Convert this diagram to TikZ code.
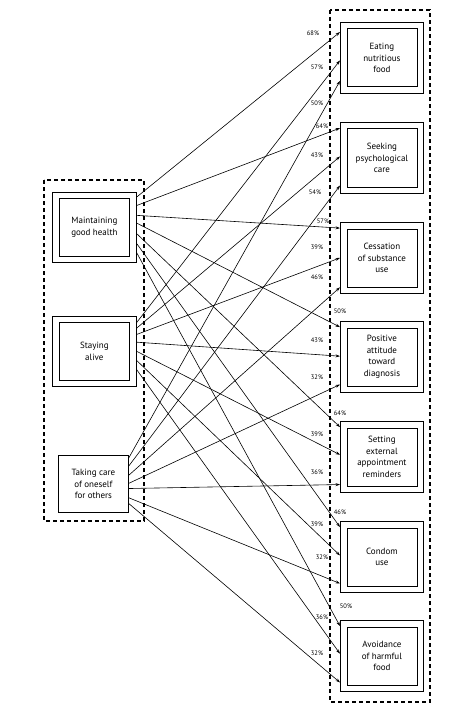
\documentclass[tikz,border=0pt]{standalone}
\usepackage{fontspec}
\setmainfont{PT Sans}
\usetikzlibrary{arrows.meta,calc}
\begin{document}
\begin{tikzpicture}[x=1pt,y=-1pt,
  obox/.style={draw,line width=0.8pt,minimum width=83pt,minimum height=71pt,inner sep=0pt,anchor=north west},
  lbox/.style={draw,line width=0.8pt,minimum width=84pt,minimum height=70pt,inner sep=0pt,anchor=north west},
  ibox/.style={draw,line width=0.8pt,minimum width=70pt,minimum height=58pt,inner sep=0pt,align=center,font=\fontsize{9}{11.5}\selectfont},
  sbox/.style={draw,line width=0.8pt,minimum width=70pt,minimum height=57pt,inner sep=0pt,align=center,anchor=north west,font=\fontsize{9}{11.5}\selectfont},
  grp/.style={draw,dashed,line width=1.8pt,dash pattern=on 4pt off 3pt},
  conn/.style={line width=0.6pt,-{Stealth[length=4.5pt,width=3pt]}},
  pct/.style={font=\fontsize{6.5}{7}\selectfont,inner sep=0pt}]
\path[use as bounding box] (0,0) rectangle (455,714);
% groups
\draw[grp] (44,180) rectangle (144,521);
\draw[grp] (330,10) rectangle (430,702);
% left boxes
\node[lbox] (mgh) at (52,192) {};
\node[ibox] (mghI) at (mgh.center) {Maintaining\\good health};
\node[lbox] (sta) at (52,316) {};
\node[ibox] (staI) at (sta.center) {Staying\\alive};
\node[sbox] (tak) at (58,455) {Taking care\\of oneself\\for others};
% right boxes
\node[obox] (eat) at (340,22) {};
\node[ibox] (eatI) at (eat.center) {Eating\\nutritious\\food};
\node[obox] (psy) at (340,122) {};
\node[ibox] (psyI) at (psy.center) {Seeking\\psychological\\care};
\node[obox] (ces) at (340,222) {};
\node[ibox] (cesI) at (ces.center) {Cessation\\of substance\\use};
\node[obox] (pos) at (340,321) {};
\node[ibox] (posI) at (pos.center) {Positive\\attitude\\toward\\diagnosis};
\node[obox] (rem) at (340,421) {};
\node[ibox] (remI) at (rem.center) {Setting\\external\\appointment\\reminders};
\node[obox] (con) at (340,521) {};
\node[ibox] (conI) at (con.center) {Condom\\use};
\node[obox] (avo) at (340,620) {};
\node[ibox] (avoI) at (avo.center) {Avoidance\\of harmful\\food};
% connectors: Maintaining -> top arrows
\foreach \t/\f/\g in {eat/0.07/0.14, psy/0.19/0.085, ces/0.33/0.085, pos/0.44/0.085, rem/0.59/0.085, con/0.73/0.085, avo/0.86/0.085}
  \draw[conn] ($(mgh.north east)!\f!(mgh.south east)$) -- ($(\t.north west)!\g!(\t.south west)$);
% Staying -> middle arrows
\foreach \t/\f/\g in {eat/0.09/0.535, psy/0.17/0.48, ces/0.26/0.5, pos/0.37/0.49, rem/0.5/0.47, con/0.63/0.48, avo/0.76/0.47}
  \draw[conn] ($(sta.north east)!\f!(sta.south east)$) -- ($(\t.north west)!\g!(\t.south west)$);
% Taking care -> bottom arrows
\foreach \t/\f/\g in {eat/0.05/0.82, psy/0.19/0.885, ces/0.35/0.91, pos/0.49/0.885, rem/0.58/0.885, con/0.74/0.87, avo/0.84/0.87}
  \draw[conn] ($(tak.north east)!\f!(tak.south east)$) -- ($(\t.north west)!\g!(\t.south west)$);
% percentages
\node[pct] (p1) at (313,33) {68\%};
\node[pct] (p2) at (317,67) {57\%};
\node[pct] (p3) at (317,103) {50\%};
\node[pct] (p4) at (322,126) {64\%};
\node[pct] (p5) at (317,155) {43\%};
\node[pct] (p6) at (315,192) {54\%};
\node[pct] (p7) at (323,221) {57\%};
\node[pct] (p8) at (317,247) {39\%};
\node[pct] (p9) at (317,277) {46\%};
\node[pct] (p10) at (340,311) {50\%};
\node[pct] (p11) at (317,340) {43\%};
\node[pct] (p12) at (317,377) {32\%};
\node[pct] (p13) at (340,413) {64\%};
\node[pct] (p14) at (317,434) {39\%};
\node[pct] (p15) at (317,472) {36\%};
\node[pct] (p16) at (340,512) {46\%};
\node[pct] (p17) at (317,524) {39\%};
\node[pct] (p18) at (322,557) {32\%};
\node[pct] (p19) at (346,606) {50\%};
\node[pct] (p20) at (322,617) {36\%};
\node[pct] (p21) at (317,653) {32\%};
\end{tikzpicture}
\end{document}
